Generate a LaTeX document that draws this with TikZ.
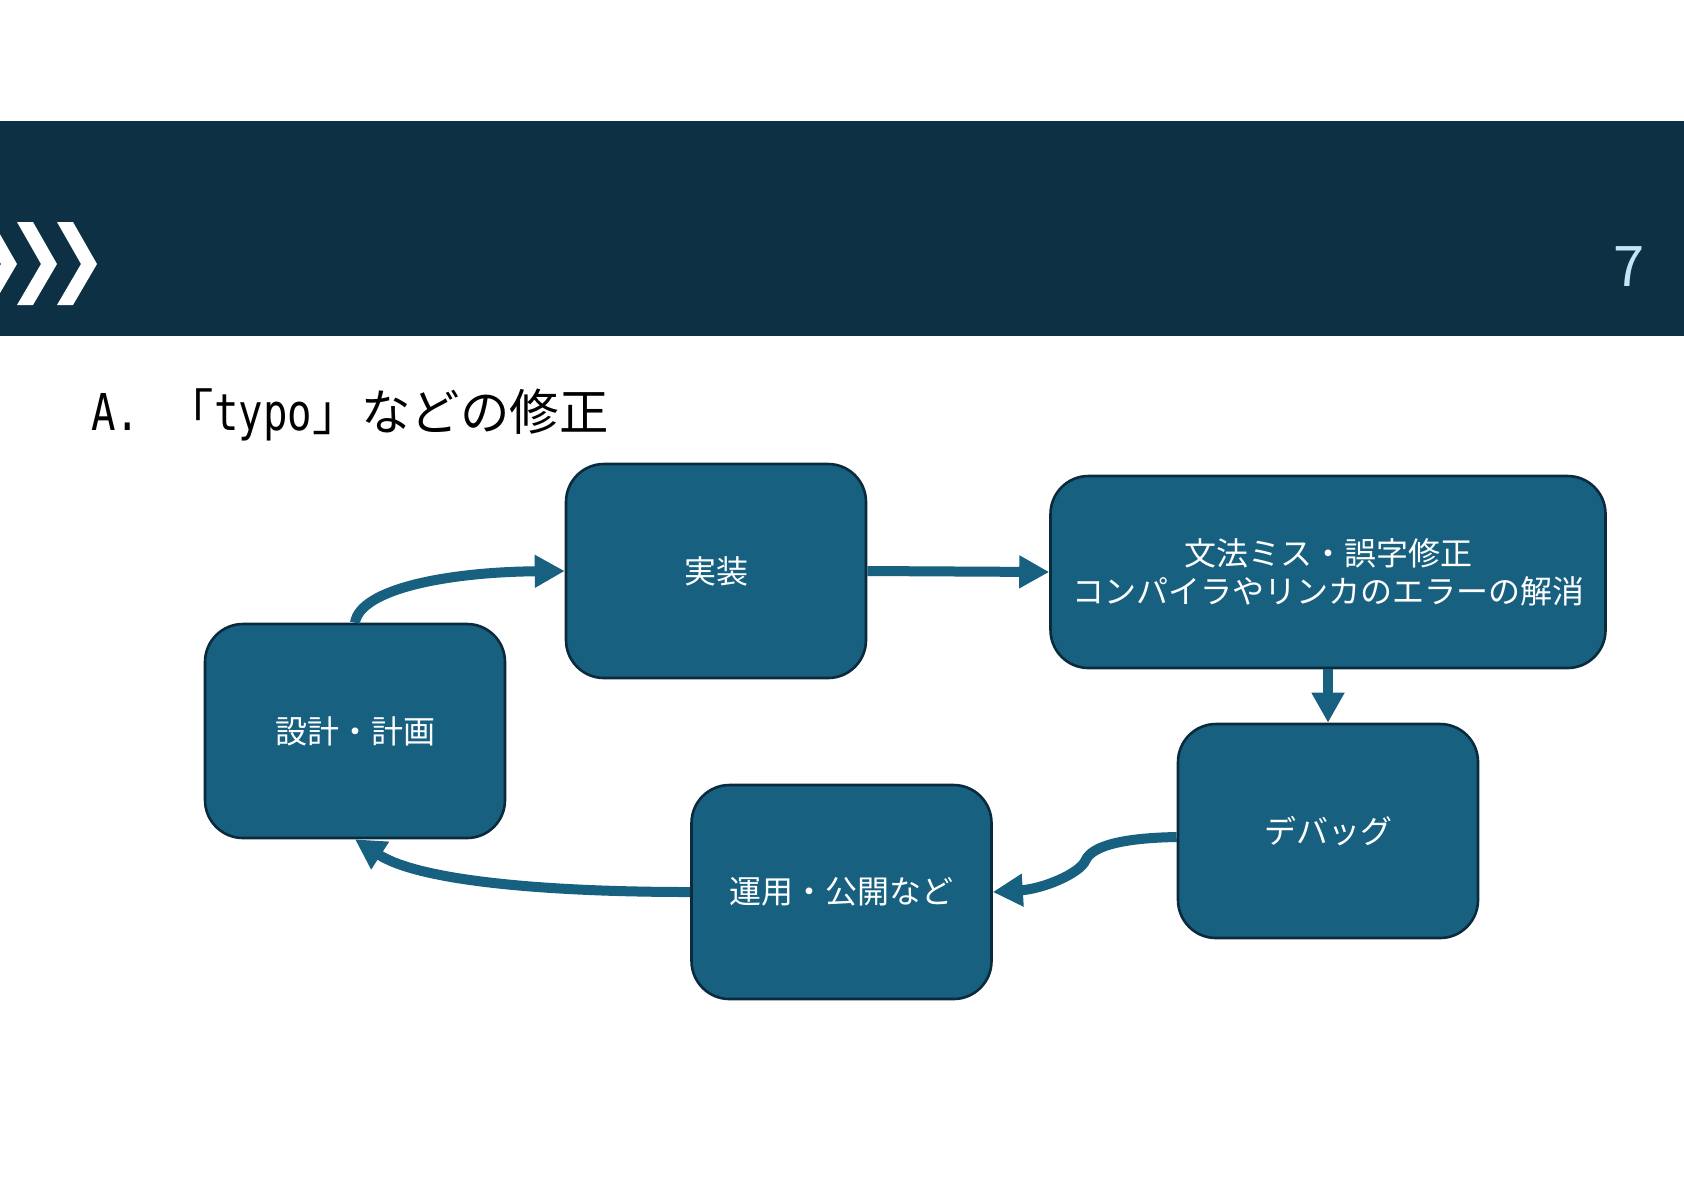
\documentclass[tikz,border=0pt]{standalone}
\usepackage{fontspec}
\setmainfont{Noto Sans CJK JP}
\newfontfamily\jpfont{Noto Sans CJK JP}
\newfontfamily\monofont[FakeStretch=0.8]{DejaVu Sans Mono}
\usetikzlibrary{arrows.meta,calc}
\definecolor{headerbg}{HTML}{0D3044}
\definecolor{boxfill}{HTML}{17607F}
\definecolor{boxline}{HTML}{0A2A3D}
\definecolor{arrowcol}{HTML}{17607F}
\definecolor{pagenum}{HTML}{C5E4F6}
\tikzset{
  stepbox/.style={rectangle, rounded corners=19pt, fill=boxfill, draw=boxline, line width=1.3pt,
    minimum width=150pt, minimum height=107pt, inner sep=0pt, text=white, align=center,
    font=\jpfont\fontsize{16pt}{19pt}\selectfont},
  flow/.style={draw=arrowcol, line width=5pt, -{Triangle[length=15pt,width=15.5pt]}},
  chev/.style={fill=white, draw=none}
}
\begin{document}
\begin{tikzpicture}[x=0.5pt,y=-0.5pt]
\useasboundingbox (0,0) rectangle (1684,1191);
\fill[white] (0,0) rectangle (1684,1191);
% header band
\fill[headerbg] (0,121) rectangle (1684,336);
% chevrons
\foreach \x in {-23,17,57}{
  \fill[chev] (\x,222) -- (\x+16,222) -- (\x+40,264) -- (\x+16,305) -- (\x,305) -- (\x+24,264) -- cycle;
}
\node[anchor=base, inner sep=0pt, text=pagenum, font=\jpfont\fontsize{28pt}{34pt}\selectfont] (pnum) at (1629,286) {7};
% title
\node[anchor=base west, inner sep=0pt, font=\jpfont\fontsize{24.7pt}{28pt}\selectfont] (title) at (91,430)
  {{\monofont\fontsize{25.4pt}{28pt}\selectfont A.\ }「{\monofont\fontsize{25.4pt}{28pt}\selectfont typo}」などの修正};
% boxes
\node[stepbox] (impl) at (716,571) {実装};
\node[stepbox, minimum width=277.5pt, minimum height=96pt] (fix) at (1328,572) {文法ミス・誤字修正\\コンパイラやリンカのエラーの解消};
\node[stepbox] (plan) at (355,731) {設計・計画};
\node[stepbox] (debug) at (1328,831) {デバッグ};
\node[stepbox] (ops) at (841.5,892) {運用・公開など};
% connectors
\draw[flow] (impl.east) -- (fix.west);
\draw[flow] (fix.south) -- (debug.north);
\draw[flow] ($(debug.west)+(0,6)$) .. controls ($(debug.west)+(-58,7)$) and ($(debug.west)+(-85,16)$) .. ($(debug.west)+(-91,29)$)
  .. controls ($(debug.west)+(-97,43)$) and ($(ops.east)+(49,-3)$) .. (ops.east);
\draw[flow] (ops.west) .. controls ($(ops.west)+(-142,0)$) and ($(plan.south)+(65,42)$) .. (plan.south);
\draw[flow] (plan.north) .. controls ($(plan.north)+(5,-34)$) and ($(impl.west)+(-116,1)$) .. (impl.west);
\end{tikzpicture}
\end{document}
